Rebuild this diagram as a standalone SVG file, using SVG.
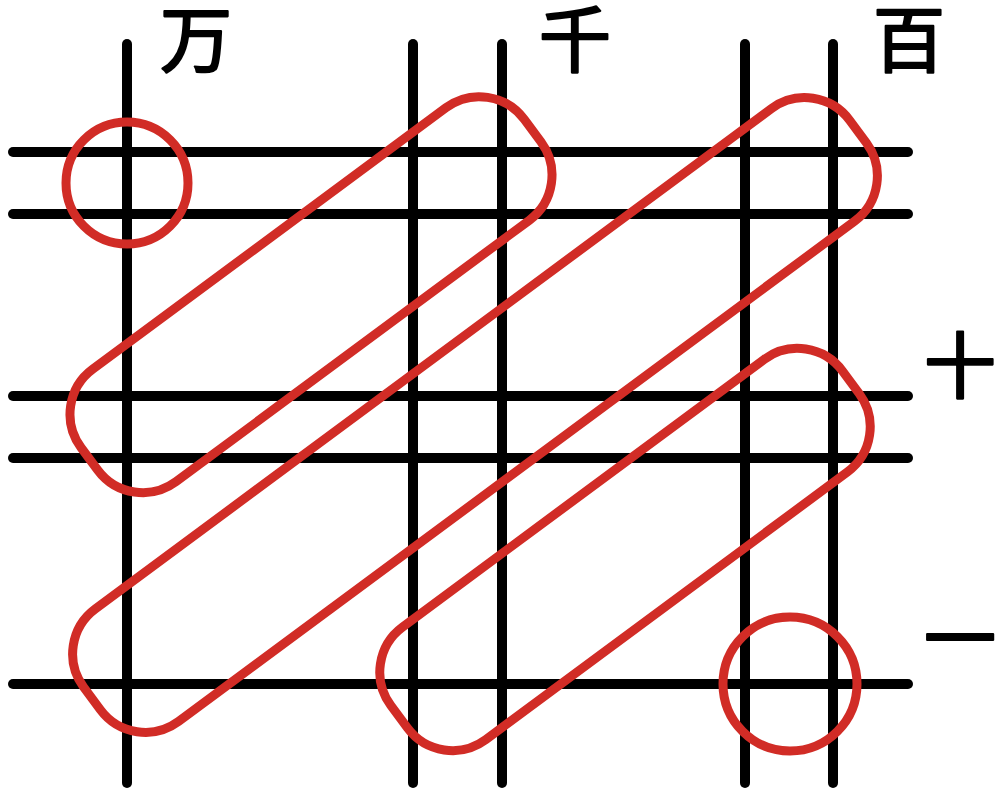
<svg xmlns="http://www.w3.org/2000/svg" width="1000" height="800" viewBox="0 0 1000 800">
<style>
.grid line{stroke:#000;stroke-width:10;stroke-linecap:round}
.mark{fill:none;stroke:#d12c26;stroke-width:9}
.lbl{font-family:"Noto Sans CJK JP","Noto Sans CJK SC",sans-serif;font-size:72px;font-weight:normal;fill:#000;stroke:#000;stroke-width:2.2;stroke-linejoin:round;text-anchor:middle}
</style>
<rect width="1000" height="800" fill="#fff"/>
<g id="connectors" class="grid">
<line x1="13" y1="152" x2="908" y2="152"/>
<line x1="13" y1="214" x2="908" y2="214"/>
<line x1="13" y1="396" x2="908" y2="396"/>
<line x1="13" y1="458" x2="908" y2="458"/>
<line x1="13" y1="684" x2="908" y2="684"/>
<line x1="127" y1="44" x2="127" y2="783"/>
<line x1="413" y1="44" x2="413" y2="783"/>
<line x1="502" y1="44" x2="502" y2="783"/>
<line x1="745" y1="44" x2="745" y2="783"/>
<line x1="833" y1="44" x2="833" y2="783"/>
</g>
<g id="labels">
<text class="lbl" x="196" y="66">万</text>
<text class="lbl" x="575" y="66">千</text>
<text class="lbl" x="909" y="66">百</text>
<text class="lbl" x="960" y="392">十</text>
<text class="lbl" x="960" y="665">一</text>
</g>
<g id="circle-man"><circle class="mark" cx="127" cy="183" r="61"/></g>
<g id="capsule-1"><rect class="mark" x="-275.75" y="-70" width="551.5" height="140" rx="56" transform="translate(311 294.7) rotate(-36.5)"/></g>
<g id="capsule-2"><rect class="mark" x="-476.5" y="-70" width="953" height="140" rx="56" transform="translate(475 415) rotate(-36.5)"/></g>
<g id="capsule-3"><rect class="mark" x="-281" y="-70" width="562" height="140" rx="56" transform="translate(625 549.5) rotate(-36.5)"/></g>
<g id="circle-ichi"><circle class="mark" cx="790" cy="684" r="67"/></g>
</svg>
